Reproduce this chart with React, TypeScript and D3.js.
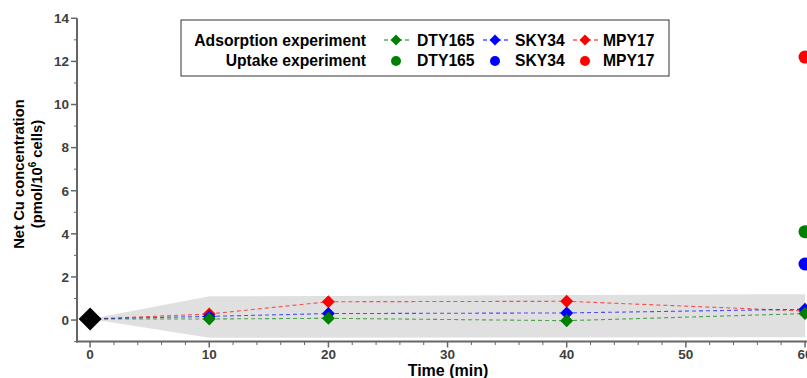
import React from "react";
import * as d3 from "d3";

const times = [0, 10, 20, 40, 60];
const dty165Ads = [0.05, 0.05, 0.08, -0.03, 0.3];
const sky34Ads = [0.05, 0.17, 0.3, 0.33, 0.5];
const mpy17Ads = [0.05, 0.28, 0.85, 0.87, 0.42];
const uptakeTime = 60;
const uptakeStrains = ["DTY165", "SKY34", "MPY17"];
const uptakeValues = [4.1, 2.6, 12.2];
const bandTimes = [0, 10, 60];
const bandUpper = [0.05, 1.1, 1.2];
const bandLower = [0.05, -0.82, -0.8];
const xTicks = [0, 10, 20, 30, 40, 50, 60];
const yTicks = [0, 2, 4, 6, 8, 10, 12, 14];
const strains = ["DTY165", "SKY34", "MPY17"];
const colors = ["#008000", "#0000ff", "#ff0000"];

const W = 807;
const H = 378;
const FONT = "'Liberation Sans', Arial, sans-serif";

export default function App() {
  const x = d3.scaleLinear().domain([-1.1, 60]).range([77, 805]);
  const y = d3.scaleLinear().domain([-1, 14]).range([341.6, 18.3]);
  const adsSeries = [dty165Ads, sky34Ads, mpy17Ads];

  const bandData = bandTimes.map((t, i) => ({ t, lo: bandLower[i], hi: bandUpper[i] }));
  const area = d3
    .area<{ t: number; lo: number; hi: number }>()
    .x((d) => x(d.t))
    .y0((d) => y(d.lo))
    .y1((d) => y(d.hi));
  const line = d3
    .line<number>()
    .x((_, i) => x(times[i]))
    .y((d) => y(d));

  const diamond = (cx: number, cy: number, r: number) =>
    `M${cx},${cy - r}L${cx + r},${cy}L${cx},${cy + r}L${cx - r},${cy}Z`;

  const xMinor = d3.range(0, 61, 2).filter((v) => v % 10 !== 0);
  const yMinor = d3.range(-1, 14, 2);
  const axisColor = "#666";
  const labelColor = "#404040";
  const drawOrder = [2, 1, 0];

  const legendItems = [
    { x: 396, tx: 417 },
    { x: 495, tx: 515 },
    { x: 585, tx: 603 },
  ];
  const LF = 15.7;

  return (
    <svg
      width={W}
      height={H}
      style={{ position: "absolute", left: 0, top: 0, background: "#fff" }}
      fontFamily={FONT}
    >
      <path d={area(bandData) || ""} fill="#e0e0e0" />
      {drawOrder.map((si) => (
        <path
          key={"l" + si}
          d={line(adsSeries[si]) || ""}
          fill="none"
          stroke={colors[si]}
          strokeOpacity={0.65}
          strokeWidth={1.1}
          strokeDasharray="4,3"
        />
      ))}
      {drawOrder.map((si) =>
        adsSeries[si].slice(1).map((v, i) => (
          <path
            key={"d" + si + "-" + i}
            d={diamond(x(times[i + 1]), y(v), 6.5)}
            fill={colors[si]}
          />
        ))
      )}
      <path d={diamond(x(times[0]), y(dty165Ads[0]), 11.5)} fill="#000" />
      {uptakeValues.map((v, i) => (
        <circle key={"u" + i} cx={x(uptakeTime)} cy={y(v)} r={6.5} fill={colors[i]} />
      ))}

      {/* axes */}
      <line x1={77} x2={77} y1={y(14)} y2={342.5} stroke={axisColor} strokeWidth={2} />
      <line x1={76} x2={W} y1={341.6} y2={341.6} stroke={axisColor} strokeWidth={2} />
      {yTicks.map((t) => (
        <g key={"yt" + t}>
          <line x1={71} x2={77} y1={y(t)} y2={y(t)} stroke={axisColor} strokeWidth={1.5} />
          <text
            x={69}
            y={y(t)}
            dy="0.36em"
            textAnchor="end"
            fontSize={13.5}
            fontWeight="bold"
            fill={labelColor}
          >
            {t}
          </text>
        </g>
      ))}
      {yMinor.map((t) => (
        <line key={"ym" + t} x1={74} x2={77} y1={y(t)} y2={y(t)} stroke={axisColor} strokeWidth={1} />
      ))}
      {xTicks.map((t) => (
        <g key={"xt" + t}>
          <line x1={x(t)} x2={x(t)} y1={341.6} y2={347.5} stroke={axisColor} strokeWidth={1.5} />
          <text
            x={x(t)}
            y={359}
            textAnchor="middle"
            fontSize={13.5}
            fontWeight="bold"
            fill={labelColor}
          >
            {t}
          </text>
        </g>
      ))}
      {xMinor.map((t) => (
        <line key={"xm" + t} x1={x(t)} x2={x(t)} y1={341.6} y2={345} stroke={axisColor} strokeWidth={1} />
      ))}

      <text x={448} y={375.5} textAnchor="middle" fontSize={16} fontWeight="bold" fill="#000">
        Time (min)
      </text>
      <g transform="translate(24,174) rotate(-90)">
        <text x={0} y={0} textAnchor="middle" fontSize={14.8} fontWeight="bold" fill="#000">
          Net Cu concentration
        </text>
        <text x={0} y={18} textAnchor="middle" fontSize={14.8} fontWeight="bold" fill="#000">
          (pmol/10
          <tspan fontSize={10} dy={-6}>
            6
          </tspan>
          <tspan dy={6}> cells)</tspan>
        </text>
      </g>

      {/* legend */}
      <rect x={181} y={20} width={488} height={56} fill="#fff" stroke="#333" strokeWidth={1} />
      <text x={366} y={45.5} textAnchor="end" fontSize={LF} fontWeight="bold" fill="#000">
        Adsorption experiment
      </text>
      <text x={366} y={66} textAnchor="end" fontSize={LF} fontWeight="bold" fill="#000">
        Uptake experiment
      </text>
      {legendItems.map((it, i) => (
        <g key={"lg" + i}>
          <line
            x1={it.x - 13}
            x2={it.x + 13}
            y1={40}
            y2={40}
            stroke={colors[i]}
            strokeWidth={1}
            strokeDasharray="4,3"
            strokeDashoffset={-1}
          />
          <path d={diamond(it.x, 40, 5.5)} fill={colors[i]} />
          <text x={it.tx} y={45.5} fontSize={LF} fontWeight="bold" fill="#000">
            {strains[i]}
          </text>
          <circle cx={it.x} cy={61} r={5} fill={colors[i]} />
          <text x={it.tx} y={66} fontSize={LF} fontWeight="bold" fill="#000">
            {uptakeStrains[i]}
          </text>
        </g>
      ))}
    </svg>
  );
}
